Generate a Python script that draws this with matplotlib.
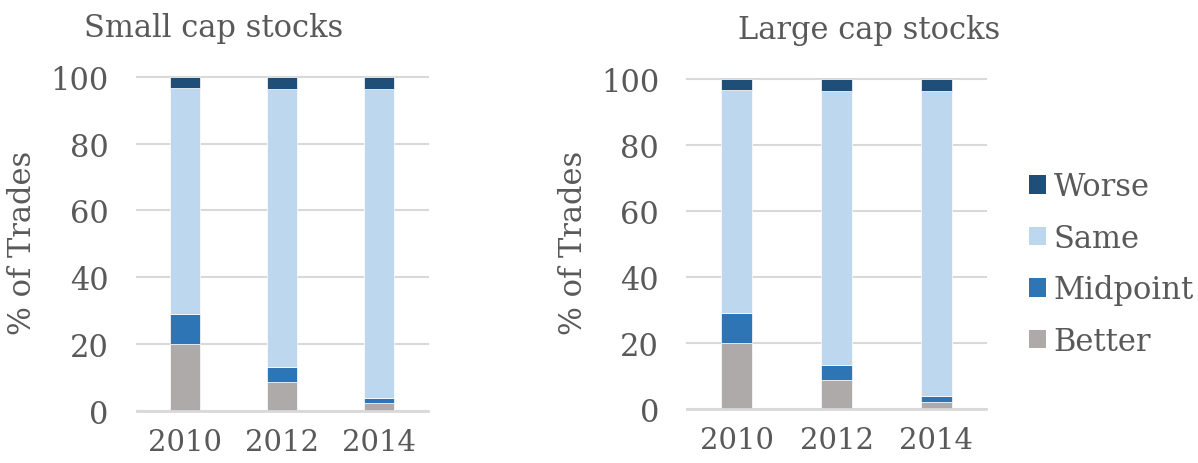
import matplotlib
matplotlib.use("Agg")
import matplotlib.pyplot as plt
from matplotlib.patches import Patch

# data (% of trades)
years = ["2010", "2012", "2014"]
categories = ["Better", "Midpoint", "Same", "Worse"]
small_better = [20.1, 8.7, 2.3]
small_midpoint = [9.0, 4.5, 1.6]
small_same = [67.5, 83.2, 92.3]
small_worse = [3.4, 3.6, 3.8]
large_better = [20.1, 8.7, 2.2]
large_midpoint = [9.0, 4.6, 1.7]
large_same = [67.6, 83.2, 92.4]
large_worse = [3.3, 3.5, 3.7]

colors = {"Better": "#aeaaaa", "Midpoint": "#2e75b6", "Same": "#bdd7ee", "Worse": "#1f4e79"}
txt = "#595959"
grid = "#d9d9d9"
fs = 22
plt.rcParams["font.family"] = ["DejaVu Serif"]

fig = plt.figure(figsize=(11.98, 4.64), dpi=100)
ax1 = fig.add_axes([136.5 / 1198, 1 - 412 / 464, 291 / 1198, 334.3 / 464])
ax2 = fig.add_axes([687 / 1198, 1 - 410 / 464, 299 / 1198, 330 / 464])


def draw(ax, series):
    bottom = [0, 0, 0]
    x = range(len(years))
    for name, vals in zip(categories, series):
        ax.bar(x, vals, width=0.31, bottom=bottom, color=colors[name],
               edgecolor="white", linewidth=0.5, zorder=3)
        bottom = [b + v for b, v in zip(bottom, vals)]
    ax.set_xlim(-0.5, 2.5)
    ax.set_ylim(0, 100)
    ax.set_yticks([0, 20, 40, 60, 80, 100])
    ax.set_xticks(list(x))
    ax.set_xticklabels(years)
    for s in ["top", "right", "left"]:
        ax.spines[s].set_visible(False)
    ax.spines["bottom"].set_color(grid)
    ax.spines["bottom"].set_linewidth(2)
    ax.spines["bottom"].set_zorder(4)
    ax.grid(axis="y", color=grid, linewidth=1.5, zorder=0)
    for gl in ax.get_ygridlines():
        gl.set_clip_on(False)
    ax.tick_params(axis="y", length=0, pad=20, labelsize=fs, labelcolor=txt)
    ax.tick_params(axis="x", length=0, pad=12, labelsize=21, labelcolor=txt)


draw(ax1, [small_better, small_midpoint, small_same, small_worse])
draw(ax2, [large_better, large_midpoint, large_same, large_worse])

fig.text(214 / 1198, 1 - 37 / 464, "Small cap stocks", ha="center", va="baseline",
         fontsize=fs, color=txt)
fig.text(869 / 1198, 1 - 39 / 464, "Large cap stocks", ha="center", va="baseline",
         fontsize=fs, color=txt)
fig.text(23 / 1198, 1 - 243 / 464, "% of Trades", rotation=90, ha="center", va="center",
         fontsize=fs, color=txt)
fig.text(573 / 1198, 1 - 243 / 464, "% of Trades", rotation=90, ha="center", va="center",
         fontsize=fs, color=txt)

handles = [Patch(facecolor=colors[c], label=c) for c in ["Worse", "Same", "Midpoint", "Better"]]
leg = fig.legend(handles=handles, loc="center left", bbox_to_anchor=(1029 / 1198, 1 - 265 / 464),
                 frameon=False, fontsize=fs, handlelength=0.55, handleheight=0.55,
                 handletextpad=0.25, labelspacing=0.67, borderpad=0, borderaxespad=0)
for t in leg.get_texts():
    t.set_color(txt)

fig.savefig("out.png", dpi=100)
